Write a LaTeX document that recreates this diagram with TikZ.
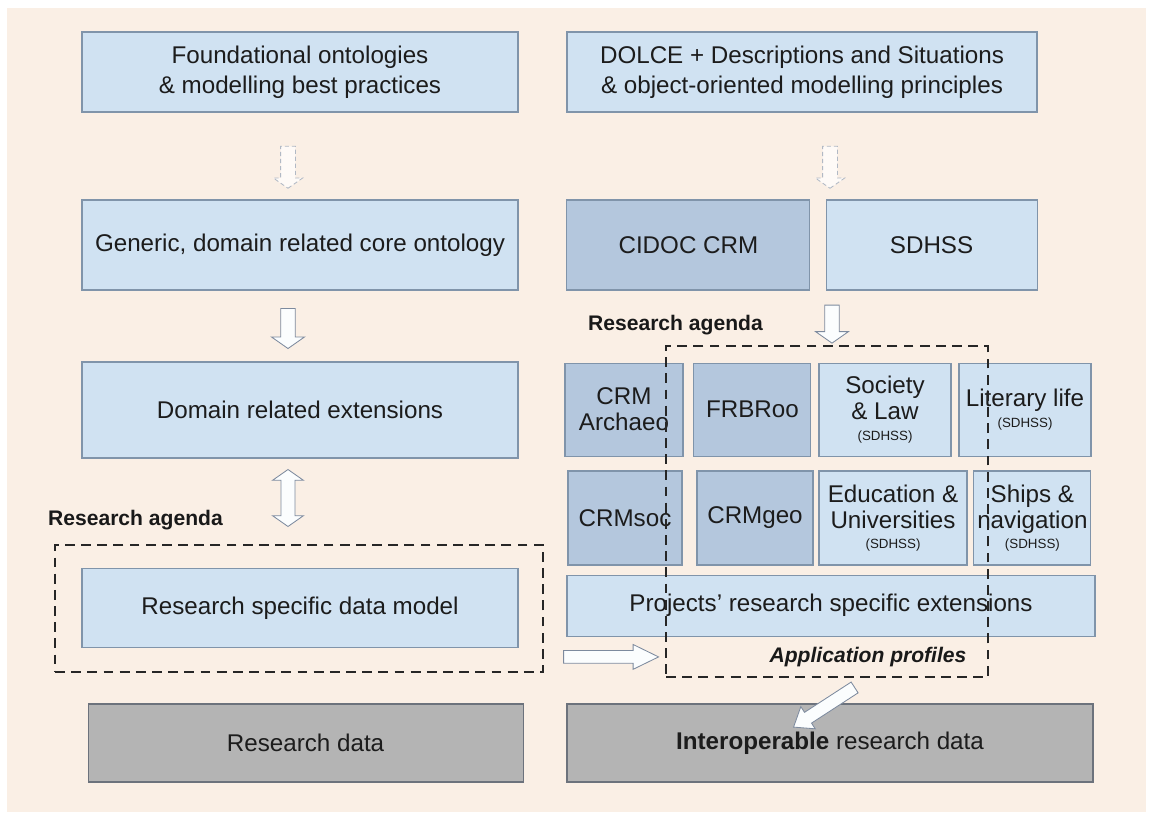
\documentclass[tikz,border=0pt]{standalone}
\usepackage{fontspec}
\setmainfont{Liberation Sans}
\usetikzlibrary{shapes.arrows,calc}
\definecolor{bgbeige}{RGB}{250,239,229}
\definecolor{boxfill}{RGB}{208,226,242}
\definecolor{boxline}{RGB}{128,148,170}
\definecolor{darkfill}{RGB}{180,199,221}
\definecolor{greyfill}{RGB}{180,180,180}
\definecolor{greyline}{RGB}{108,114,124}
\definecolor{arrline}{RGB}{125,138,158}
\definecolor{txt}{RGB}{28,28,28}

\begin{document}
\begin{tikzpicture}[
	b/.style={draw=boxline, fill=boxfill, line width=0.8pt, align=center, text=txt, inner sep=2pt, font=\fontsize{17.2}{21}\selectfont},
	tb/.style={b, font=\fontsize{17.2}{18.5}\selectfont},
	dk/.style={tb, fill=darkfill},
	gr/.style={b, fill=greyfill, draw=greyline},
	ag/.style={draw=black!85, dash pattern=on 7pt off 4.5pt, line width=1.3pt, inner sep=0pt},
	lb/.style={font=\fontsize{15}{18}\selectfont\bfseries, text=black!90},
	arr/.style={single arrow, draw=arrline, fill=white!92!boxfill, line width=0.6pt, inner xsep=0pt},
	darr/.style={arr, draw=arrline!60, fill=white!70!bgbeige, dash pattern=on 3pt off 2pt}]

	\useasboundingbox (0,0) rectangle (28.8,-20.5);
	\fill[white] (0,0) rectangle (28.8,-20.5);
	\fill[bgbeige] (0.18,-0.2) rectangle (28.65,-20.3);

	% left column
	\node[b, minimum width=10.9cm, minimum height=2cm] (found) at (7.5,-1.8) {Foundational ontologies\\ \& modelling best practices};
	\node[b, minimum width=10.9cm, minimum height=2.25cm] (generic) at (7.5,-6.125) {Generic, domain related core ontology};
	\node[b, minimum width=10.9cm, minimum height=2.4cm] (domext) at (7.5,-10.25) {Domain related extensions};
	\node[b, minimum width=10.9cm, minimum height=1.975cm] (resmodel) at (7.5,-15.21) {Research specific data model};
	\node[gr, minimum width=10.875cm, minimum height=1.95cm] (resdata) at (7.64,-18.575) {Research data};

	% right column
	\node[b, minimum width=11.75cm, minimum height=2cm] (dolce) at (20.05,-1.8) {DOLCE + Descriptions and Situations\\ \& object-oriented modelling principles};
	\node[dk, minimum width=6.075cm, minimum height=2.25cm] (cidoc) at (17.21,-6.125) {CIDOC CRM};
	\node[b, minimum width=5.275cm, minimum height=2.25cm] (sdhss) at (23.29,-6.125) {SDHSS};

	\node[dk, minimum width=2.95cm, minimum height=2.325cm] (archaeo) at (15.6,-10.24) {CRM\\ Archaeo};
	\node[dk, minimum width=2.925cm, minimum height=2.325cm] (frbroo) at (18.81,-10.24) {FRBRoo};
	\node[tb, minimum width=3.3cm, minimum height=2.325cm] (society) at (22.125,-10.24) {Society\\ \& Law\\[-4pt] {\fontsize{9.5}{11}\selectfont (SDHSS)}};
	\node[tb, minimum width=3.3cm, minimum height=2.325cm] (literary) at (25.625,-10.24) {Literary life\\[-4pt] {\fontsize{9.5}{11}\selectfont (SDHSS)}};

	\node[dk, minimum width=2.85cm, minimum height=2.35cm] (crmsoc) at (15.625,-12.95) {CRMsoc};
	\node[dk, minimum width=2.9cm, minimum height=2.35cm] (crmgeo) at (18.875,-12.95) {CRMgeo};
	\node[tb, minimum width=3.7cm, minimum height=2.35cm] (educ) at (22.325,-12.95) {Education \&\\ Universities\\[-4pt] {\fontsize{9.5}{11}\selectfont (SDHSS)}};
	\node[tb, minimum width=2.925cm, minimum height=2.35cm] (ships) at (25.81,-12.95) {Ships \&\\ navigation\\[-4pt] {\fontsize{9.5}{11}\selectfont (SDHSS)}};

	\node[b, minimum width=13.2cm, minimum height=1.525cm] (projects) at (20.775,-15.14) {Projects' research specific extensions};
	\node[gr, minimum width=13.15cm, minimum height=1.95cm] (interop) at (20.75,-18.575) {\textbf{Interoperable} research data};

	% research agenda frames
	\node[ag, minimum width=12.2cm, minimum height=3.175cm] (agendaL) at (7.475,-15.2125) {};
	\node[ag, minimum width=8.05cm, minimum height=8.275cm] (agendaR) at (20.675,-12.7875) {};
	\node[lb, anchor=west] (agL) at (1.08,-13.0) {Research agenda};
	\node[lb, anchor=west] (agR) at (14.58,-8.125) {Research agenda};
	\node[font=\fontsize{15}{18}\selectfont\bfseries\itshape, text=black!90] (appl) at (21.7,-16.425) {Application profiles};

	% hollow arrows
	\node[darr, rotate=-90, minimum height=1.05cm, inner ysep=0.175cm, single arrow head extend=0.18cm, single arrow tip angle=110] (a1) at ($(found.south)!0.6!(generic.north)+(-0.3,0)$) {};
	\node[darr, rotate=-90, minimum height=1.05cm, inner ysep=0.175cm, single arrow head extend=0.18cm, single arrow tip angle=110] (a2) at ($(dolce.south)!0.6!(dolce.south|-cidoc.north)+(0.7,0)$) {};
	\node[arr, rotate=-90, minimum height=1.0cm, inner ysep=0.17cm, single arrow head extend=0.23cm, single arrow tip angle=110] (a3) at ($(generic.south)!0.5!(domext.north)+(-0.3,0)$) {};
	\node[arr, rotate=-90, minimum height=0.95cm, inner ysep=0.17cm, single arrow head extend=0.23cm, single arrow tip angle=110] (a4) at (20.8,-8.04) {};
	\node[double arrow, draw=arrline, fill=white!92!boxfill, line width=0.6pt, inner xsep=0pt, inner ysep=0.165cm, rotate=90, minimum height=1.425cm, double arrow head extend=0.21cm, double arrow tip angle=110] (a5) at (7.2,-12.45) {};
	\node[arr, minimum height=2.375cm, inner ysep=0.15cm, single arrow head extend=0.15cm, single arrow tip angle=52] (a6) at ($(agendaL.east)!0.5!(agendaR.west|-agendaL.east)+(0,-1.21)$) {};
	\node[arr, rotate=213, minimum height=1.82cm, inner ysep=0.15cm, single arrow head extend=0.17cm, single arrow tip angle=75] (a7) at (20.69,-17.625) {};

\end{tikzpicture}
\end{document}
